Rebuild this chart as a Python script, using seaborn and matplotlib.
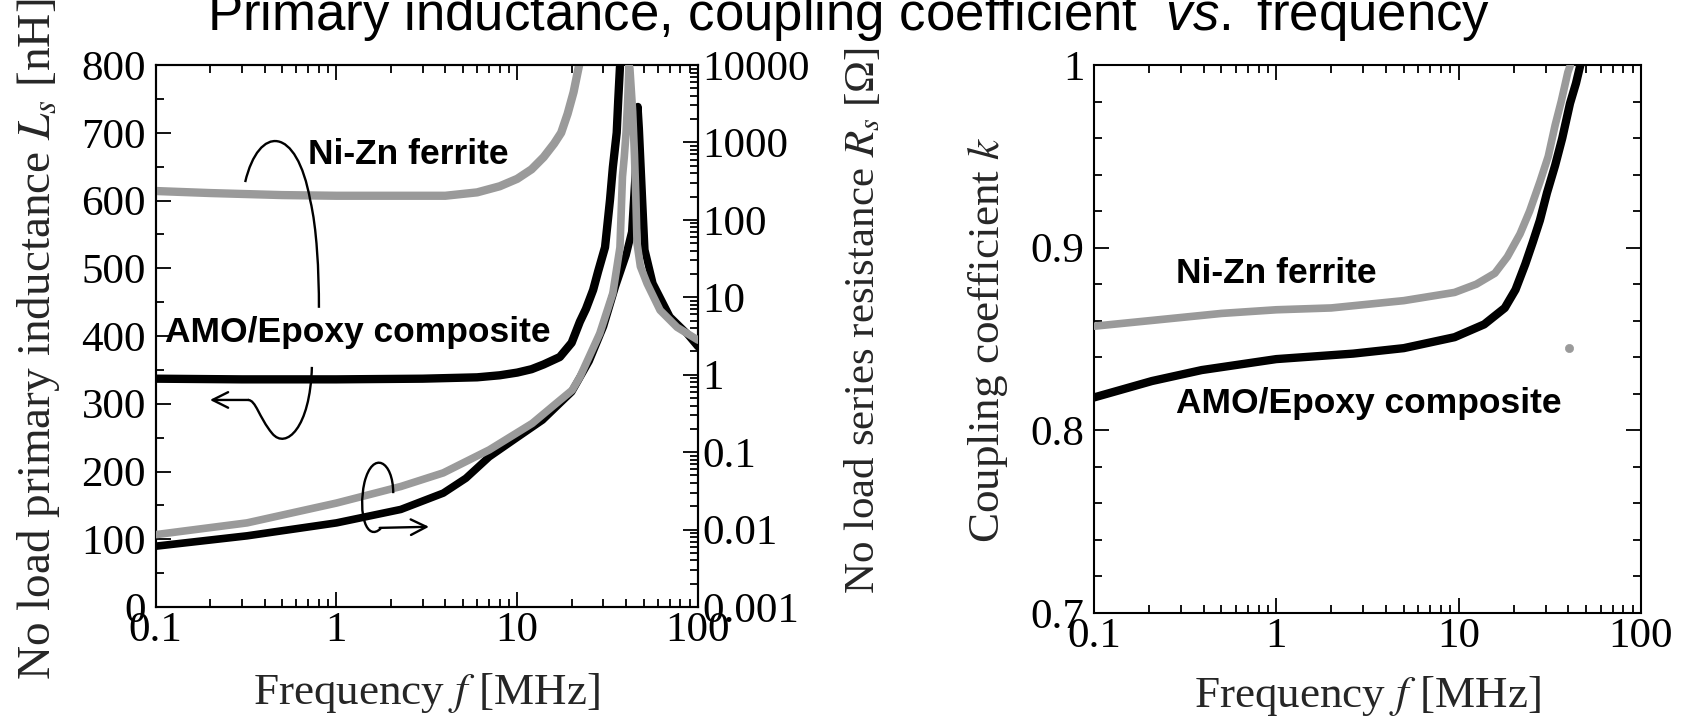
import matplotlib
matplotlib.use("Agg")
import matplotlib.pyplot as plt
from matplotlib.path import Path
from matplotlib.patches import PathPatch
from matplotlib.ticker import LogLocator, MultipleLocator, FuncFormatter, NullFormatter
import numpy as np
import seaborn as sns

# ---------------- data ----------------
# Left panel: primary inductance Ls [nH] (left linear axis)
f_L_ferrite = [0.1, 0.2, 0.5, 1, 2, 4, 6, 8, 10, 12, 14, 16, 17.5, 19, 20.5, 22]
L_ferrite = [614, 611, 608, 607, 607, 607, 612, 621, 632, 646, 664, 684, 700, 728, 760, 800]

f_L_amo = [0.1, 0.3, 1, 3, 6, 8, 10, 12, 14, 17.2, 20, 22.2, 24, 26.3, 28, 30.6,
           32.6, 33.8, 35.5, 36.2, 37]
L_amo = [337, 336, 336, 337, 339, 342, 346, 351, 358, 369, 390, 421, 440, 468, 495, 531,
         601, 649, 700, 748, 797]

# Left panel: series resistance Rs [Ohm] (right log axis)
f_R_ferrite = [0.1, 0.32, 1, 2.27, 3.9, 7, 12.1, 16.3, 20.1, 22.2, 28.6, 33.8, 37, 37.8,
               38.2, 39.1, 40, 40.9, 41.5, 42, 43.5, 44.5, 45.3, 46, 48, 52.3, 61.7, 76.6, 100]
R_ferrite = [0.0086, 0.0122, 0.022, 0.036, 0.054, 0.107, 0.235, 0.42, 0.63, 0.93, 3.4, 11.3,
             44, 180, 360, 650, 1340, 3700, 10000, 9000, 2500, 700, 200, 50, 25, 15, 6.8, 4.1, 2.8]

f_R_amo = [0.1, 0.32, 1, 2.27, 3.9, 5.2, 7, 9.8, 13.8, 20, 25, 30, 35, 40, 43, 45, 46, 46.5,
           47.3, 47.9, 49.3, 50.8, 56.3, 69.9, 86.9, 100]
R_amo = [0.0061, 0.0083, 0.0122, 0.0182, 0.0296, 0.046, 0.087, 0.15, 0.26, 0.6, 1.5, 4.2, 14,
         35, 70, 400, 1500, 2900, 1500, 790, 182, 41, 15.1, 5.6, 3.4, 2.3]

# Right panel: coupling coefficient k
f_k_ferrite = [0.1, 0.2, 0.5, 1, 2, 5, 9.5, 12.5, 15.8, 18.5, 21.7, 24.5, 27.9, 31, 33.8,
               36.5, 39.7, 41]
k_ferrite = [0.857, 0.860, 0.864, 0.866, 0.867, 0.871, 0.8755, 0.880, 0.886, 0.895, 0.9075,
             0.92, 0.936, 0.95, 0.967, 0.98, 0.996, 1.0]
f_k_amo = [0.1, 0.208, 0.39, 1.0, 2.64, 5.0, 9.5, 13.8, 17.9, 20.5, 23.2, 25.5, 27.9, 30.5,
           33.8, 37, 40.8, 44, 46.5]
k_amo = [0.818, 0.827, 0.833, 0.839, 0.842, 0.845, 0.851, 0.858, 0.867, 0.877, 0.891, 0.903,
         0.915, 0.93, 0.945, 0.96, 0.979, 0.99, 1.0]
f_k_stray = [40.4]
k_stray = [0.845]

title_text = r"Primary inductance, coupling coefficient  $\mathit{vs.}$ frequency"

# ---------------- style ----------------
sns.set_theme(style="white")
plt.rcParams['font.family'] = ['Liberation Serif', 'DejaVu Serif']
plt.rcParams['mathtext.fontset'] = 'stix'
title_font = 'Liberation Sans'
plt.rcParams['mathtext.it'] = title_font + ':italic'
plt.rcParams['mathtext.rm'] = title_font

GRAY = '#9a9a9a'
BLACK = '#000000'
TICK_FS = 31
ANN_FS = 25.5
LW_SP = 1.5

W, H = 1690, 718
fig = plt.figure(figsize=(W / 100, H / 100), dpi=100)
fig.patch.set_facecolor('white')
ax1 = fig.add_axes([155.7 / W, 1 - 607 / H, (698 - 155.7) / W, (607 - 65) / H])
ax1r = ax1.twinx()
ax2 = fig.add_axes([1094 / W, 1 - 613 / H, (1641 - 1094) / W, (613 - 65) / H])


def draw(ax, x, y, color, lw, z):
    sns.lineplot(x=x, y=y, ax=ax, color=color, linewidth=lw, sort=False,
                 estimator=None, zorder=z, legend=False)


# left panel curves
draw(ax1, f_L_ferrite, L_ferrite, GRAY, 6, 3)
draw(ax1, f_L_amo, L_amo, BLACK, 6, 4)
draw(ax1r, f_R_amo, R_amo, BLACK, 5.5, 3)
draw(ax1r, f_R_ferrite, R_ferrite, GRAY, 5.5, 4)

# right panel curves
draw(ax2, f_k_ferrite, k_ferrite, GRAY, 5.5, 3)
draw(ax2, f_k_amo, k_amo, BLACK, 6, 4)
sns.scatterplot(x=f_k_stray, y=k_stray, ax=ax2, color=GRAY, s=35, edgecolor=None, zorder=4, legend=False)

fmt = FuncFormatter(lambda v, p: f"{v:g}")


def style_logx(ax):
    ax.set_xscale('log')
    ax.set_xlim(0.1, 100)
    ax.xaxis.set_major_locator(LogLocator(base=10, numticks=20))
    ax.xaxis.set_minor_locator(LogLocator(base=10, subs=np.arange(2, 10), numticks=50))
    ax.xaxis.set_major_formatter(fmt)
    ax.xaxis.set_minor_formatter(NullFormatter())


style_logx(ax1)
style_logx(ax2)
ax1.set_ylim(0, 800)
ax1.yaxis.set_major_locator(MultipleLocator(100))
ax1.yaxis.set_minor_locator(MultipleLocator(50))

ax1r.set_yscale('log')
ax1r.set_ylim(1e-3, 1e4)
ax1r.yaxis.set_major_locator(LogLocator(base=10, numticks=20))
ax1r.yaxis.set_minor_locator(LogLocator(base=10, subs=np.arange(2, 10), numticks=100))
ax1r.yaxis.set_major_formatter(fmt)
ax1r.yaxis.set_minor_formatter(NullFormatter())

ax2.set_ylim(0.7, 1.0)
ax2.yaxis.set_major_locator(MultipleLocator(0.1))
ax2.yaxis.set_minor_locator(MultipleLocator(0.02))
ax2.yaxis.set_major_formatter(fmt)

for ax in (ax1, ax1r, ax2):
    for s in ax.spines.values():
        s.set_color('black')
        s.set_linewidth(LW_SP)
        s.set_visible(True)
    ax.set_facecolor('none')

ax1.tick_params(axis='both', which='both', direction='in', top=True, bottom=True,
                left=True, right=False, colors='black', width=1.3, labelsize=TICK_FS)
ax1.tick_params(which='major', length=11)
ax1.tick_params(which='minor', length=6)
ax1.tick_params(axis='y', pad=7)
ax1.tick_params(axis='x', pad=3)

ax1r.tick_params(axis='y', which='both', direction='in', right=True, left=False,
                 colors='black', width=1.3, labelsize=TICK_FS, pad=3)
ax1r.tick_params(which='major', length=11)
ax1r.tick_params(which='minor', length=6)

ax2.tick_params(axis='both', which='both', direction='in', top=True, bottom=True,
                left=True, right=True, colors='black', width=1.3, labelsize=TICK_FS)
ax2.tick_params(which='major', length=11)
ax2.tick_params(which='minor', length=6)
ax2.tick_params(axis='y', pad=7)
ax2.tick_params(axis='x', pad=3)

# axis labels
ax1.set_ylabel(r"No load primary inductance $L_s$ [nH]", fontsize=34)
ax1.yaxis.set_label_coords(-0.217, 0.494)
ax1.yaxis.label.set_va('center')
ax1r.set_ylabel(r"No load series resistance $R_s$ [Ω]", fontsize=31)
ax1r.yaxis.set_label_coords(1.304, 0.528)
ax1r.yaxis.label.set_va('center')
ax1.set_xlabel(r"Frequency $f$ [MHz]", fontsize=32.5)
ax1.xaxis.set_label_coords(0.5, -0.159)
ax1.xaxis.label.set_va('center')

ax2.set_ylabel(r"Coupling coefficient $k$", fontsize=32.5)
ax2.yaxis.set_label_coords(-0.194, 0.498)
ax2.yaxis.label.set_va('center')
ax2.set_xlabel(r"Frequency $f$ [MHz]", fontsize=32.5)
ax2.xaxis.set_label_coords(0.5, -0.152)
ax2.xaxis.label.set_va('center')

# in-plot annotations
ann = dict(fontsize=ANN_FS, fontweight='bold', family=['Liberation Sans', 'DejaVu Sans'],
           ha='left', va='center', color='black', zorder=10)
ax1r.text(0.281, 0.834, "Ni-Zn ferrite", transform=ax1.transAxes, **ann)
ax1r.text(0.0175, 0.506, "AMO/Epoxy composite", transform=ax1.transAxes, **ann)
ax2.text(0.150, 0.620, "Ni-Zn ferrite", transform=ax2.transAxes, **ann)
ax2.text(0.150, 0.383, "AMO/Epoxy composite", transform=ax2.transAxes, **ann)

# hand-drawn style loops + arrows on the left panel
C4 = Path.CURVE4
loop_kw = dict(transform=ax1.transAxes, fill=False, lw=1.7, edgecolor='black', zorder=9)
upper = Path([(0.165, 0.784), (0.19, 0.89), (0.26, 0.89), (0.285, 0.75),
              (0.297, 0.70), (0.301, 0.62), (0.301, 0.552)],
             [Path.MOVETO, C4, C4, C4, C4, C4, C4])
lower = Path([(0.288, 0.443), (0.285, 0.33), (0.24, 0.29), (0.215, 0.32),
              (0.19, 0.35), (0.185, 0.382), (0.17, 0.382)],
             [Path.MOVETO, C4, C4, C4, C4, C4, C4])
rloop = Path([(0.438, 0.21), (0.438, 0.27), (0.40, 0.29), (0.385, 0.23),
              (0.372, 0.17), (0.39, 0.12), (0.415, 0.145)],
             [Path.MOVETO, C4, C4, C4, C4, C4, C4])
for p in (upper, lower, rloop):
    ax1r.add_patch(PathPatch(p, **loop_kw))
ax1r.annotate('', xy=(0.10, 0.382), xytext=(0.171, 0.382), xycoords=ax1.transAxes,
              textcoords=ax1.transAxes,
              arrowprops=dict(arrowstyle='->', lw=1.7, color='black', mutation_scale=28,
                              shrinkA=0, shrinkB=0))
ax1r.annotate('', xy=(0.504, 0.148), xytext=(0.413, 0.146), xycoords=ax1.transAxes,
              textcoords=ax1.transAxes,
              arrowprops=dict(arrowstyle='->', lw=1.7, color='black', mutation_scale=28,
                              shrinkA=0, shrinkB=0))

# title (partly clipped at the top like the reference)
fig.text(849 / W, 1 - 30 / H, title_text, ha='center', va='baseline', fontsize=38,
         family=title_font, math_fontfamily='custom', color='black')

fig.savefig('out.png', dpi=100, facecolor='white')
